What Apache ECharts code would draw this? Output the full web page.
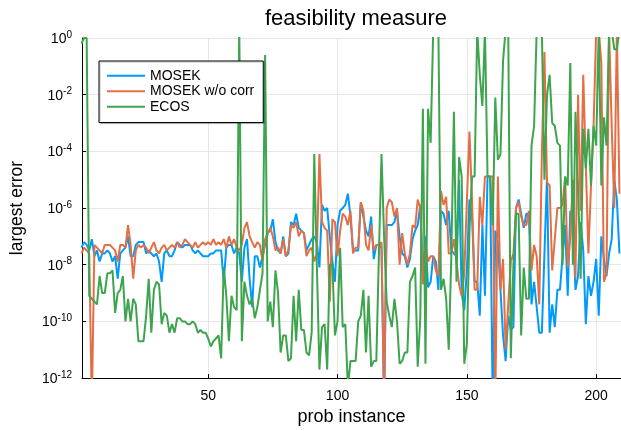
<!DOCTYPE html>
<html>
<head>
<meta charset="utf-8">
<script src="https://cdn.jsdelivr.net/npm/echarts@6/dist/echarts.min.js"></script>
<style>
  html, body { margin: 0; padding: 0; background: #fff; }
  #main { width: 621px; height: 431px; }
</style>
</head>
<body>
<div id="main"></div>
<script>
// largest error per problem instance (instances 1..209)
const mosek = [
  4e-8, 6.3e-8, 5e-8, 3.2e-8, 8e-8, 2e-8, 3.2e-8, 1.3e-8, 2.5e-8, 2.5e-8,
  3.2e-8, 2.5e-8, 1.3e-8, 2e-8, 3.2e-9, 2.5e-8, 3.2e-8, 4e-8, 1e-7, 2e-8,
  2e-8, 5e-8, 6.3e-8, 6.3e-8, 6.3e-8, 2.5e-8, 3.2e-8, 2.5e-8, 2e-8, 2.5e-8,
  1.3e-8, 2.5e-9, 2.5e-8, 3.2e-8, 2e-8, 2e-8, 3.2e-8, 6.3e-8, 5e-8, 4e-8,
  5e-8, 5e-8, 5e-8, 3.2e-8, 2.5e-8, 3.2e-8, 2.5e-8, 2e-8, 2e-8, 2e-8,
  2.5e-8, 2.5e-8, 3.2e-8, 3.2e-8, 3.2e-8, 2.5e-9, 4e-8, 5e-8, 5e-8, 2.5e-8,
  4e-8, 2.5e-8, 2.5e-9, 4e-8, 8e-8, 3.2e-9, 3.2e-10, 2e-8, 2e-8, 8e-9,
  2e-8, 5e-8, 1.3e-7, 1.6e-7, 4e-7, 6.3e-8, 3.2e-8, 2.5e-8, 1e-7, 2e-8,
  2.5e-8, 3.2e-7, 2.5e-7, 6.3e-7, 2e-7, 1.6e-7, 1.3e-7, 3.2e-8, 5e-8, 8e-8,
  1e-7, 6.3e-8, 8e-9, 1.3e-6, 8e-7, 1e-6, 1e-7, 1.3e-8, 2.5e-9, 2.5e-7,
  8e-7, 1e-6, 1.3e-6, 3.2e-6, 5e-7, 3.2e-8, 3.2e-8, 3.2e-8, 1.6e-6, 5e-7,
  1.6e-7, 1e-7, 5e-7, 1.6e-8, 5e-8, 5e-8, 4e-8, 1e-13, 2.5e-7, 2.5e-7,
  2.5e-7, 3.2e-7, 8e-7, 1e-7, 2.5e-8, 2e-8, 8e-9, 1.6e-8, 8e-8, 1.6e-7,
  2.5e-7, 1.3e-6, 4e-9, 1e-7, 1.6e-9, 2.5e-9, 2e-8, 1.3e-8, 1.3e-9, 8e-7,
  6.3e-7, 2.5e-7, 8e-7, 3.2e-8, 2.5e-8, 2e-8, 1e-5, 1e-9, 2.5e-10, 6.3e-9,
  2e-6, 5e-7, 2.5e-9, 2.5e-9, 1.6e-10, 2.5e-7, 8e-10, 1.3e-5, 1.3e-5, 1e-13,
  1.6e-7, 6.3e-8, 1.3e-9, 3.2e-11, 4e-12, 1.6e-10, 5e-11, 6.3e-11, 1e-6, 2e-6,
  6.3e-7, 2e-7, 6.3e-7, 6.3e-7, 4e-10, 2.5e-9, 3.2e-10, 4e-11, 4e-11, 2.5e-8,
  1.3e-5, 4e-11, 4e-10, 6.3e-11, 1.3e-9, 1.3e-9, 2e-8, 2.5e-7, 8e-10, 8e-7,
  3.2e-7, 1.3e-9, 4e-9, 3.2e-7, 3.2e-8, 8e-11, 4e-9, 8e-10, 2.5e-9, 1.6e-8,
  1.6e-10, 1e-7, 1.6e-8, 4e-9, 2.5e-8, 8e-8, 1e-5, 2e-6, 2.5e-8
];
const mosekNoCorr = [
  2.5e-8, 4e-8, 3.2e-8, 2.5e-8, 1e-13, 5e-8, 4e-8, 3.2e-8, 2.5e-8, 5e-8,
  5e-8, 5e-8, 4e-8, 3.2e-8, 1.3e-8, 5e-8, 5e-8, 4e-8, 2.5e-7, 5e-8,
  3.2e-9, 3.2e-8, 5e-8, 4e-8, 5e-8, 4e-8, 2.5e-8, 4e-8, 6.3e-8, 3.2e-8,
  2.5e-8, 4e-8, 5e-8, 3.2e-8, 4e-8, 5e-8, 4e-8, 6.3e-8, 4e-8, 5e-8,
  8e-8, 6.3e-8, 5e-8, 4e-8, 6.3e-8, 4e-8, 5e-8, 6.3e-8, 5e-8, 6.3e-8,
  5e-8, 8e-8, 5e-8, 6.3e-8, 5e-8, 8e-8, 4e-8, 1e-7, 5e-8, 8e-8,
  4e-8, 3.2e-8, 5e-8, 2e-7, 3.2e-7, 1e-7, 6.3e-8, 4e-8, 6.3e-8, 5e-8,
  1.3e-8, 8e-8, 1.3e-7, 2e-7, 1e-7, 3.2e-8, 4e-8, 2.5e-8, 8e-8, 2e-8,
  3.2e-8, 2.5e-7, 2e-7, 3.2e-7, 1e-7, 1.6e-7, 1.3e-7, 2e-8, 3.2e-8, 4e-8,
  1.3e-8, 2.5e-8, 8e-5, 3.2e-7, 2e-7, 1.6e-7, 5e-10, 4e-7, 3.2e-7, 2e-8,
  1.6e-7, 6.3e-7, 5e-7, 2.5e-7, 8e-7, 2.5e-8, 4e-8, 4e-8, 1.6e-6, 8e-7,
  5e-8, 3.2e-8, 2.5e-7, 3.2e-8, 5e-8, 5e-8, 6.3e-8, 1e-13, 1e-6, 2e-6,
  1.6e-6, 5e-7, 1e-6, 1e-8, 1.3e-7, 2.5e-8, 1e-8, 2.5e-8, 2.5e-7, 2e-7,
  2e-6, 1e-6, 2e-9, 5e-8, 1.3e-8, 2e-8, 2e-8, 6.3e-9, 4e-9, 4e-6,
  1.3e-6, 2.5e-6, 2.5e-8, 2.5e-8, 8e-8, 1.3e-8, 2e-9, 8e-10, 5e-9, 1.6e-6,
  5e-4, 2e-6, 1.3e-9, 1.3e-9, 2.5e-6, 2.5e-7, 1.3e-5, 1.3e-5, 1.3e-5, 1.3e-5,
  1e-13, 1.3e-5, 1.3e-9, 1.6e-8, 1e-11, 4e-10, 1.3e-8, 2.5e-8, 1e-6, 1.6e-6,
  5e-7, 2.5e-7, 2.5e-7, 8e-7, 6.3e-9, 5e-8, 2e-8, 4e-10, 8e-5, 0.32,
  8e-6, 6.3e-6, 6.3e-9, 8e-8, 1e-6, 1e-6, 1.3e-6, 1.3e-5, 8e-9, 1e-7,
  1e-5, 3.2e-9, 1e-2, 8e-7, 5e-2, 3.2e-5, 2.5e-8, 6.3e-6, 8e-4, 2,
  2, 0.13, 2.5e-9, 5e-9, 2, 8e-4, 1e-6, 2, 3.2e-6
];
const ecos = [
  0.63, 1, 1, 8e-10, 6.3e-10, 5e-10, 4e-10, 4e-9, 1e-9, 1e-9,
  5e-9, 5e-9, 6.3e-9, 2e-10, 1e-9, 1.3e-9, 4e-9, 1e-10, 6.3e-10, 1e-10,
  6.3e-10, 4e-10, 2e-11, 2e-11, 2e-11, 1.6e-10, 3.2e-9, 4e-11, 1.3e-9, 2.5e-9,
  2e-9, 8e-11, 2e-10, 1.6e-10, 4e-11, 8e-11, 4e-11, 1.3e-10, 1.3e-10, 1e-10,
  1e-10, 8e-11, 8e-11, 1e-10, 8e-11, 4e-11, 5e-11, 4e-11, 4e-11, 2.5e-11,
  1.3e-11, 2e-11, 2.5e-11, 3.2e-11, 5e-12, 8e-9, 8e-10, 2e-11, 8e-10, 3.2e-10,
  2.5e-10, 3.2, 2e-11, 2.5e-9, 8e-10, 4e-10, 6.3e-10, 1.3e-10, 3.2e-10, 1.3e-9,
  5e-9, 0.25, 1e-10, 5e-10, 6.3e-11, 6.3e-9, 1e-9, 8e-12, 3.2e-11, 3.2e-11,
  4e-12, 5e-12, 8e-10, 2e-11, 1.3e-9, 5e-11, 5e-11, 8e-12, 6.3e-12, 4e-11,
  8e-5, 1e-8, 2e-12, 6.3e-11, 8e-11, 2e-12, 1e-8, 1e-8, 3.2e-11, 1e-10,
  4e-8, 6.3e-11, 8e-11, 5e-13, 4e-12, 4e-12, 4e-12, 1e-10, 1.6e-10, 1.3e-9,
  8e-12, 8e-10, 2.5e-12, 4e-12, 4e-12, 2.5e-8, 8e-5, 1e-7, 5e-10, 1.6e-10,
  6.3e-11, 6.3e-10, 1e-10, 3.2e-12, 4e-12, 8e-12, 8e-12, 2.5e-9, 4e-9, 8e-9,
  2.5e-12, 1.3e-10, 3.2e-3, 3.2e-12, 3.2e-3, 2e-4, 2, 2, 2, 1.3e-9,
  3.2e-9, 6.3e-10, 1e-11, 2e-8, 2.5e-3, 2.5e-9, 6.3e-5, 1.3e-5, 3.2e-12, 1.6e-11,
  1.6e-7, 1.3e-5, 1.3e-5, 2, 5e-2, 4e-3, 2, 1.3e-5, 1.3e-5, 2.5e-7,
  8e-3, 5e-5, 8e-5, 0.16, 2, 2, 5e-12, 1e-8, 6.3e-7, 6.3e-7,
  3.2e-11, 8e-9, 6.3e-10, 6.3e-10, 1.6e-4, 8e-4, 2, 2, 2, 1e-5,
  1e-2, 5e-2, 1e-3, 8e-4, 2e-4, 1.6e-4, 1e-8, 1.3e-5, 6.3e-6, 0.13,
  1e-8, 2.5e-3, 5e-6, 3.2e-9, 6.3e-4, 2.5e-5, 6.3e-4, 6.3e-6, 8e-4, 1.6e-4,
  2, 6.3e-6, 1.6e-3, 1.6e-4, 2, 2, 0.4, 0.4, 2
];
const seriesNames = ['MOSEK', 'MOSEK w/o corr', 'ECOS'];
const seriesColors = ['#009AFA', '#E36F47', '#3EA44E'];
const xTicks = [50, 100, 150, 200];

const font = '"Liberation Sans", Arial, Helvetica, sans-serif';
const chart = echarts.init(document.getElementById('main'));

const toPairs = (arr) => arr.map((v, k) => [k + 1, v]);

chart.setOption({
  animation: false,
  backgroundColor: '#fff',
  textStyle: { fontFamily: font, color: '#000' },
  title: {
    text: 'feasibility measure',
    left: 351,
    textAlign: 'center',
    top: 3,
    textStyle: { fontFamily: font, fontSize: 22, fontWeight: 'normal', color: '#000' }
  },
  legend: {
    orient: 'vertical',
    left: 99,
    top: 61,
    padding: [7, 9, 8, 8],
    itemGap: 0,
    itemWidth: 38,
    itemHeight: 2,
    icon: 'rect',
    backgroundColor: '#fff',
    borderColor: '#000',
    borderWidth: 1,
    shadowColor: 'rgba(0,0,0,0.25)',
    shadowBlur: 1,
    shadowOffsetX: 1,
    shadowOffsetY: 1,
    selectedMode: false,
    textStyle: { fontFamily: font, fontSize: 14, lineHeight: 15.5, color: '#000' },
    data: seriesNames
  },
  grid: { left: 81, right: 0, top: 38, bottom: 43, containLabel: false },
  xAxis: {
    type: 'value',
    min: 1.2,
    max: 209.6,
    name: 'prob instance',
    nameLocation: 'middle',
    nameGap: 24,
    nameTextStyle: { fontFamily: font, fontSize: 18, color: '#000' },
    axisLine: { show: true, onZero: false, lineStyle: { color: '#000', width: 1 } },
    axisTick: { show: true, inside: true, length: 4, customValues: xTicks, lineStyle: { color: '#000' } },
    axisLabel: { customValues: xTicks, fontFamily: font, fontSize: 14, color: '#000', margin: 11 },
    splitLine: { show: true, lineStyle: { color: '#e6e6e6', width: 1 } }
  },
  yAxis: {
    type: 'log',
    logBase: 10,
    min: 1e-12,
    max: 1,
    interval: 2,
    name: 'largest error',
    nameLocation: 'middle',
    nameGap: 56,
    nameTextStyle: { fontFamily: font, fontSize: 17.5, color: '#000' },
    axisLine: { show: true, onZero: false, lineStyle: { color: '#000', width: 1 } },
    axisTick: { show: true, inside: true, length: 4, lineStyle: { color: '#000' } },
    axisLabel: {
      margin: 10,
      formatter: (v) => '{b|10}{s|' + Math.round(Math.log10(v)) + '}',
      rich: {
        b: { fontFamily: font, fontSize: 14, lineHeight: 16, color: '#000', verticalAlign: 'bottom' },
        s: { fontFamily: font, fontSize: 10, lineHeight: 10, color: '#000', verticalAlign: 'top' }
      }
    },
    splitLine: { show: true, lineStyle: { color: '#e6e6e6', width: 1 } }
  },
  series: [mosek, mosekNoCorr, ecos].map((arr, k) => ({
    name: seriesNames[k],
    type: 'line',
    data: toPairs(arr),
    showSymbol: false,
    symbol: 'none',
    clip: true,
    color: seriesColors[k],
    lineStyle: { width: 2, color: seriesColors[k] }
  }))
});
</script>
</body>
</html>
